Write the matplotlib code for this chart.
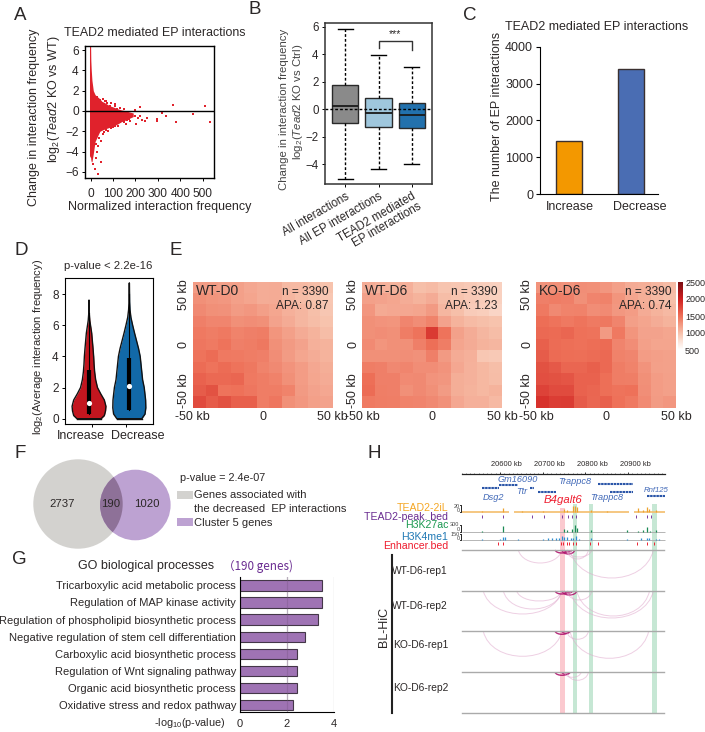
#!/usr/bin/python3
import numpy as np
import matplotlib
matplotlib.use("Agg")
import matplotlib.pyplot as plt
from matplotlib.colors import LinearSegmentedColormap
from matplotlib.patches import Circle, PathPatch, Rectangle
from matplotlib.path import Path

plt.rcParams["font.family"] = ["Liberation Sans", "DejaVu Sans"]
plt.rcParams["mathtext.fontset"] = "custom"
plt.rcParams["mathtext.rm"] = "Liberation Sans"
plt.rcParams["mathtext.it"] = "Liberation Sans:italic"
plt.rcParams["mathtext.default"] = "regular"
plt.rcParams["text.color"] = "#2b2727"
plt.rcParams["axes.labelcolor"] = "#2b2727"
plt.rcParams["xtick.labelcolor"] = "#2b2727"
plt.rcParams["ytick.labelcolor"] = "#2b2727"

################################################################################
# Data
################################################################################
# A - envelope of the dense cloud and the points outside of it
a_env_x = [-5, 0, 1, 3, 6, 12, 20, 41, 50, 60, 86, 100, 123, 138, 150, 190]
a_env_up = [6.4, 6.4, 5, 4, 3, 2, 1.6, 1.2, 0.95, 0.85, 0.5, 0.4, 0.2, 0.1, 0.05, -0.2]
a_env_lo = [-4.4, -4.6, -4.8, -5, -5, -4.2, -3, -2, -1.9, -1.8, -1.6, -1.5, -1.25, -1.05, -0.95, -0.55]
a_pts_x = [109, 116, 74, 86, 198, 220, 369, 510, 533, 455, 379, 317, 336, 295, 298, 250, 243, 228, 213,
           198, 183, 168, 158, 176, 146, 131, 138, 202, 220, 46, 31, 12, 19, 45, 34, 56, 79, 101, 123,
           41, 64, 93, 131, 60, 70, 90, 110, 150, 160, 170, 150, 110, 70, 55, 30, 25, 38, 28, 22]
a_pts_y = [0.66, 0.23, 0.75, 0.5, 0.1, 0.4, 0.6, 0.5, -1.05, -0.33, -1.08, -0.23, -0.5, -0.75, -1, -0.72,
           -1, -0.9, -0.65, -0.5, -0.5, -0.33, -1.3, -1, -0.8, -1.08, -0.55, -1.25, -0.5, -5, -6.2, -5.2,
           -5.7, -3, -3.4, -2.3, -2, -1.6, -1.5, 1.1, 1, 0.8, 0.3, -2.1, -1.9, -1.7, -1.5, -1.1, -0.9, -0.75,
           0.15, 0.45, 0.95, 1.15, 1.4, -3.3, -2.7, -4, -4.6]

# B - box plot
b_labels = ["All interactions", "All EP interactions", "TEAD2 mediated\nEP interactions"]
b_q1 = [-0.97, -1.25, -1.32]
b_med = [0.23, -0.25, -0.4]
b_q3 = [1.8, 0.85, 0.47]
b_low = [-5.05, -4.35, -4.0]
b_high = [5.87, 3.95, 3.1]
b_colors = ["#8a8a8a", "#9fc7dd", "#2271ad"]

# C - bars
c_labels = ["Increase", "Decrease"]
c_values = [1440, 3400]
c_colors = ["#f39800", "#4a6db3"]

# D - violins
d_labels = ["Increase", "Decrease"]
d_inc_y = [0, 0.2, 0.5, 0.8, 1.2, 1.6, 2, 2.5, 3, 3.5, 4, 4.5, 5, 5.5, 6, 6.3, 6.7, 7.6]
d_inc_w = [0.30, 0.38, 0.41, 0.42, 0.38, 0.29, 0.21, 0.165, 0.14, 0.125, 0.115, 0.10, 0.083, 0.066, 0.037, 0.02, 0.008, 0.004]
d_dec_y = [0, 0.3, 0.7, 1.2, 2, 2.5, 3, 3.5, 4, 4.5, 5, 5.5, 6, 6.5, 7, 7.5, 8.7]
d_dec_w = [0.31, 0.39, 0.41, 0.405, 0.37, 0.33, 0.31, 0.29, 0.27, 0.23, 0.18, 0.13, 0.083, 0.04, 0.017, 0.008, 0.003]
d_q1 = [0.3, 0.55]
d_med = [1.0, 2.1]
d_q3 = [3.1, 3.9]
d_top = [6.8, 8.0]
d_colors = ["#c3161f", "#1269a8"]

# E - aggregate peak analysis, rows from top to bottom
e_names = ["WT-D0", "WT-D6", "KO-D6"]
e_apa = ["APA: 0.87", "APA: 1.23", "APA: 0.74"]
e_wt_d0 = [
  [1220, 1220, 1200, 1200, 1150, 1120, 1130, 1040, 1040, 1020, 980],
  [1300, 1270, 1250, 1200, 1170, 1120, 1130, 1060, 1020, 980, 950],
  [1340, 1300, 1290, 1230, 1250, 1210, 1160, 1100, 1060, 1000, 960],
  [1400, 1360, 1360, 1300, 1320, 1300, 1180, 1130, 1060, 1020, 980],
  [1440, 1420, 1440, 1380, 1400, 1420, 1270, 1200, 1130, 1080, 1020],
  [1460, 1430, 1480, 1400, 1420, 1450, 1300, 1240, 1180, 1100, 1080],
  [1480, 1520, 1440, 1430, 1420, 1400, 1320, 1230, 1160, 1120, 1080],
  [1520, 1480, 1520, 1480, 1450, 1380, 1340, 1280, 1220, 1150, 1110],
  [1580, 1540, 1540, 1560, 1440, 1420, 1390, 1300, 1220, 1160, 1130],
  [1620, 1680, 1480, 1490, 1460, 1420, 1420, 1380, 1240, 1180, 1150],
  [1720, 1620, 1680, 1600, 1600, 1420, 1460, 1300, 1250, 1200, 1180],
]
e_wt_d6 = [
  [1120, 1090, 1080, 1100, 1000, 1030, 970, 960, 930, 900, 880],
  [1200, 1180, 1160, 1120, 1080, 1130, 1020, 970, 930, 910, 880],
  [1260, 1140, 1150, 1150, 1170, 1240, 1060, 1000, 920, 900, 850],
  [1300, 1280, 1270, 1360, 1320, 1380, 1180, 1080, 1030, 1000, 980],
  [1300, 1320, 1300, 1420, 1480, 1830, 1480, 1190, 1120, 1060, 1020],
  [1330, 1270, 1300, 1300, 1400, 1500, 1420, 1170, 1130, 1080, 1060],
  [1300, 1300, 1300, 1310, 1290, 1400, 1240, 1130, 1100, 950, 930],
  [1420, 1400, 1350, 1360, 1320, 1320, 1280, 1150, 1090, 1050, 1010],
  [1500, 1400, 1400, 1330, 1340, 1280, 1260, 1110, 1090, 1050, 1020],
  [1520, 1410, 1400, 1300, 1340, 1300, 1230, 1110, 1080, 1050, 1080],
  [1430, 1420, 1410, 1380, 1370, 1340, 1290, 1150, 1100, 1100, 1040],
]
e_ko_d6 = [
  [1280, 1300, 1280, 1310, 1300, 1260, 1200, 1130, 1110, 1070, 1030],
  [1400, 1420, 1400, 1300, 1370, 1390, 1270, 1170, 1110, 1040, 1000],
  [1440, 1340, 1380, 1390, 1320, 1330, 1250, 1220, 1130, 1080, 1040],
  [1510, 1480, 1440, 1470, 1430, 1450, 1370, 1210, 1170, 1120, 1080],
  [1540, 1530, 1560, 1490, 1480, 1240, 1440, 1270, 1180, 1180, 1160],
  [1600, 1520, 1500, 1490, 1510, 1530, 1370, 1320, 1200, 1170, 1170],
  [1620, 1530, 1510, 1500, 1520, 1540, 1390, 1360, 1220, 1210, 1190],
  [1680, 1640, 1560, 1560, 1600, 1540, 1420, 1380, 1280, 1200, 1190],
  [1700, 1680, 1660, 1580, 1580, 1500, 1420, 1410, 1300, 1220, 1200],
  [1780, 1720, 1720, 1580, 1560, 1500, 1480, 1490, 1310, 1220, 1200],
  [1880, 1810, 1820, 1620, 1550, 1600, 1490, 1440, 1330, 1230, 1260],
]
e_bar_ticks = [500, 1000, 1500, 2000, 2500]

# F - venn
f_counts = ["2737", "190", "1020"]

# G - GO terms
g_terms = ["Tricarboxylic acid metabolic process", "Regulation of MAP kinase activity",
           "Regulation of phospholipid biosynthetic process", "Negative regulation of stem cell differentiation",
           "Carboxylic acid biosynthetic process", "Regulation of Wnt signaling pathway",
           "Organic acid biosynthetic process", "Oxidative stress and redox pathway"]
g_values = [3.48, 3.48, 3.34, 2.76, 2.45, 2.42, 2.42, 2.25]

# H - browser tracks, positions in kb
h_major = [20600, 20700, 20800, 20900]
h_minor = np.arange(20510, 20990, 10)
h_gene_start = [20558, 20598, 20670, 20688, 20830, 20858, 20945]
h_gene_end = [20598, 20642, 20680, 20732, 20912, 20912, 20987]
h_gene_row = [488, 485, 488, 492, 484, 492, 496]
h_orange_start = [20511, 20632, 20913]
h_orange_end = [20620, 20901, 20987]
h_orange_x = [20559, 20608, 20651, 20700, 20749, 20756, 20770, 20776, 20780, 20813, 20850, 20922, 20935, 20944, 20950, 20965]
h_orange_v = [5, 15, 5, 4, 9, 6, 19, 20, 18, 6, 3, 13, 6, 18, 10, 8]
h_k27_x = [20559, 20608, 20749, 20758, 20769, 20776, 20780, 20813, 20897, 20922, 20935, 20944, 20952, 20965]
h_k27_v = [50, 230, 120, 80, 110, 280, 150, 60, 70, 40, 60, 170, 40, 60]
h_k4_x = [20559, 20600, 20608, 20612, 20643, 20700, 20712, 20722, 20730, 20738, 20745, 20750, 20758,
          20766, 20772, 20778, 20785, 20813, 20897, 20930, 20944, 20950, 20965, 20972]
h_k4_v = [30, 30, 80, 70, 25, 25, 50, 60, 40, 50, 100, 80, 70, 50, 60, 90, 30, 60, 20, 60, 40, 50, 35, 20]
h_peak = [20559, 20608, 20674, 20702, 20745, 20760, 20769, 20777, 20918, 20944, 20954]
h_enh = [20595, 20608, 20742, 20748, 20756, 20762, 20770, 20777, 20811, 20830, 20921, 20945, 20961]
h_pink = [20741, 20752]
h_green_start = [20770, 20808, 20956]
h_green_end = [20781, 20818, 20967]
h_tracks = ["WT-D6-rep1", "WT-D6-rep2", "KO-D6-rep1", "KO-D6-rep2"]
# arcs per track: start kb, end kb, depth in px, strong or not
h_arcs = [
  [(20643, 20745, 13, 0), (20729, 20760, 3, 1), (20745, 20775, 4, 1), (20750, 20768, 2, 1),
   (20756, 20815, 7, 0), (20764, 20959, 28, 0), (20756, 20807, 9, 0)],
  [(20561, 20745, 23, 0), (20608, 20745, 18, 0), (20639, 20745, 10, 0), (20729, 20760, 3, 1),
   (20745, 20780, 4, 1), (20750, 20770, 2, 1), (20756, 20815, 9, 0), (20764, 20959, 27, 0), (20780, 20950, 25, 0)],
  [(20561, 20745, 25, 0), (20729, 20762, 3, 1), (20745, 20764, 2, 1), (20764, 20948, 27, 0), (20756, 20807, 8, 0)],
  [(20729, 20762, 3, 1), (20745, 20764, 2, 1), (20756, 20807, 8, 0), (20750, 20790, 5, 0)],
]

################################################################################
# Helpers, everything is laid out in pixels of the reference
################################################################################
W, H = 705, 732
fig = plt.figure(figsize=(W/100, H/100), dpi=100)

def add_ax(x0, y0, x1, y1):
  return fig.add_axes([x0/W, 1 - y1/H, (x1 - x0)/W, (y1 - y0)/H])

def text(x, y, s, **kw):
  kw.setdefault("ha", "center")
  kw.setdefault("va", "center")
  kw.setdefault("fontsize", 8)
  return fig.text(x/W, 1 - y/H, s, **kw)

for letter, x, y in [("A", 20, 16), ("B", 255, 9), ("C", 470, 15), ("D", 21, 250),
                     ("E", 176, 250), ("F", 20, 453), ("G", 19, 559), ("H", 374, 453)]:
  text(x, y, letter, fontsize=13.5)

################################################################################
# A
################################################################################
ax = add_ax(85, 46, 214, 178)
ax.fill_between(a_env_x, a_env_lo, a_env_up, color="#e0222c", lw=0)
ax.scatter(a_pts_x, a_pts_y, s=1.6, marker="s", color="#e0222c", lw=0)
ax.axhline(0, color="black", lw=1)
ax.set_xlim(-25, 550)
ax.set_ylim(-6.6, 6.4)
ax.set_xticks([0, 100, 200, 300, 400, 500])
ax.set_yticks([-6, -4, -2, 0, 2, 4, 6])
ax.set_yticklabels(["\u22126", "\u22124", "\u22122", "0", "2", "4", "6"])
ax.tick_params(labelsize=8.6, length=2.5, width=0.7, pad=2)
ax.tick_params(axis="x", pad=5)
for s in ax.spines.values(): s.set_linewidth(1)
text(155, 33, "TEAD2 mediated EP interactions", fontsize=8.9)
text(34, 117, "Change in interaction frequency", rotation=90, fontsize=9)
text(54, 99, r"log$_2$($\mathit{Tead2}$ KO vs WT)", rotation=90, fontsize=9)
text(160, 207, "Normalized interaction frequency", fontsize=9)

################################################################################
# B
################################################################################
ax = add_ax(325, 23, 432, 184)
stats = []
for i in range(3):
  stats.append(dict(q1=b_q1[i], med=b_med[i], q3=b_q3[i], whislo=b_low[i], whishi=b_high[i], fliers=[]))
bp = ax.bxp(stats, positions=[1, 2, 3], widths=0.8, patch_artist=True, showfliers=False,
            medianprops=dict(color="#1a1a1a", lw=1.3),
            whiskerprops=dict(color="black", lw=1, linestyle=(0, (2, 1.5))),
            capprops=dict(color="black", lw=1), capwidths=0.45,
            boxprops=dict(edgecolor="#2a2a2a", lw=1))
for patch, color in zip(bp["boxes"], b_colors):
  patch.set_facecolor(color)
ax.axhline(0, color="black", lw=1, linestyle=(0, (2, 1.5)))
ax.plot([2, 2, 3, 3], [4.47, 4.98, 4.98, 4.3], color="#333333", lw=1)
ax.text(2.5, 5.5, "***", ha="center", va="center", fontsize=7.5)
ax.set_xlim(0.4, 3.6)
ax.set_ylim(-5.42, 6.27)
ax.set_yticks([-4, -2, 0, 2, 4, 6])
ax.set_yticklabels(["\u22124", "\u22122", "0", "2", "4", "6"])
ax.set_xticks([1, 2, 3])
ax.set_xticklabels(b_labels, rotation=30, ha="right", rotation_mode="anchor", linespacing=1.0)
ax.tick_params(labelsize=8.3, length=2.5, width=0.7, pad=2)
for s in ax.spines.values():
  s.set_linewidth(1.1)
  s.set_color("#333333")
text(284, 109, "Change in interaction frequency", rotation=90, fontsize=8.2, color="#444444")
text(298, 102, r"log$_2$($\mathit{Tead2}$ KO vs Ctrl)", rotation=90, fontsize=8.2, color="#444444")

################################################################################
# C
################################################################################
ax = add_ax(540, 46.7, 658, 194.3)
ax.bar([0, 1], c_values, width=26/62, color=c_colors, edgecolor="#3a3030", lw=1)
ax.set_xlim(-0.468, 1.435)
ax.set_ylim(0, 4000)
# the labels sit a bit off their bars in the original
ax.set_xticks([0.02, 1.14])
ax.set_xticklabels(c_labels)
ax.set_yticks([0, 1000, 2000, 3000, 4000])
ax.tick_params(axis="x", length=0, labelsize=9, pad=5)
ax.tick_params(axis="y", length=3, width=0.8, labelsize=9, pad=2)
ax.spines["top"].set_visible(False)
ax.spines["right"].set_visible(False)
text(597, 27, "TEAD2 mediated EP interactions", fontsize=9)
text(497, 116, "The number of EP interactions", rotation=90, fontsize=9)

################################################################################
# D
################################################################################
ax = add_ax(65, 278, 153, 424)
for i, (y, w) in enumerate([(d_inc_y, d_inc_w), (d_dec_y, d_dec_w)]):
  y = np.array(y)
  w = np.array(w)
  ax.fill_betweenx(y, i + 1 - w, i + 1 + w, color=d_colors[i], lw=0)
  ax.plot(np.r_[i + 1 - w[::-1], i + 1 + w], np.r_[y[::-1], y], color="#111111", lw=1, solid_capstyle="round")
  ax.plot([i + 1 - w[0], i + 1 + w[0]], [0, 0], color="#111111", lw=1)
  ax.plot([i + 1, i + 1], [d_q1[i], d_top[i]], color="black", lw=0.8)
  ax.plot([i + 1, i + 1], [d_q1[i], d_q3[i]], color="black", lw=3, solid_capstyle="butt")
  ax.scatter([i + 1], [d_med[i]], s=14, color="white", zorder=5, lw=0)
ax.set_xlim(0.404, 2.588)
ax.set_ylim(-0.34, 9.03)
ax.set_xticks([1.07, 1.92])
ax.set_xticklabels(["", ""])
ax.set_yticks([0, 2, 4, 6, 8])
ax.tick_params(labelsize=8.5, length=2.5, width=0.7, pad=2)
text(80.5, 436, d_labels[0], fontsize=9)
text(138, 436, d_labels[1], fontsize=9)
text(108, 266, "p-value < 2.2e-16", fontsize=8.1)
text(38, 347, r"log$_2$(Average interaction frequency)", rotation=90, fontsize=8)

################################################################################
# E
################################################################################
e_cmap = LinearSegmentedColormap.from_list("apa", [
  (0.0, "#ffffff"), (0.125, "#fce3d8"), (0.25, "#f7c0aa"), (0.5, "#ee7058"),
  (0.75, "#d01f1f"), (1.0, "#7a0c12")])
e_x = [192.7, 362, 536]
for i, m in enumerate([e_wt_d0, e_wt_d6, e_ko_d6]):
  ax = add_ax(e_x[i], 281.7, e_x[i] + 140, 408)
  im = ax.imshow(m, cmap=e_cmap, vmin=500, vmax=2500, aspect="auto", extent=[-50, 50, -50, 50], interpolation="nearest")
  ax.set_xticks([-50, 0, 50])
  ax.set_xticklabels(["-50 kb", "0", "50 kb"])
  ax.set_yticks([-36, 0, 40])
  ax.set_yticklabels(["-50 kb", "0", "50 kb"], rotation=90, va="center")
  ax.tick_params(length=0, labelsize=9, pad=2)
  for s in ax.spines.values(): s.set_visible(False)
  ax.text(-48, 42.5, e_names[i], fontsize=10, ha="left", va="center")
  ax.text(47, 42, "n = 3390", fontsize=8.6, ha="right", va="center")
  ax.text(47, 31, e_apa[i], fontsize=8.6, ha="right", va="center")
cax = add_ax(678, 282, 683, 350)
cb = fig.colorbar(im, cax=cax, ticks=e_bar_ticks)
cb.outline.set_visible(False)
cb.ax.tick_params(length=0, labelsize=6.5, pad=1.5)

################################################################################
# F
################################################################################
ax = add_ax(0, 440, 175, 560)
ax.set_xlim(0, 175)
ax.set_ylim(560, 440)
ax.axis("off")
big = Circle((78, 504), 44.7, color="#d3d2cf", lw=0)
small = Circle((135.3, 505), 35.3, color="#bda2d2", lw=0)
ax.add_patch(big)
ax.add_patch(small)
overlap = Circle((135.3, 505), 35.3, color="#8e7198", lw=0)
ax.add_patch(overlap)
overlap.set_clip_path(big)
for x, s in zip([62, 111, 147], f_counts):
  ax.text(x, 504, s, ha="center", va="center", fontsize=8.2)
text(180, 478, "p-value = 2.4e-07", ha="left", fontsize=7.8)
text(194, 495, "Genes associated with", ha="left", fontsize=8)
text(194, 508.5, "the decreased  EP interactions", ha="left", fontsize=8)
text(194, 522.5, "Cluster 5 genes", ha="left", fontsize=8)
fig.add_artist(Rectangle((177/W, 1 - 499/H), 16/W, 8/H, transform=fig.transFigure, color="#d3d2cf", lw=0))
fig.add_artist(Rectangle((177/W, 1 - 526/H), 16/W, 8/H, transform=fig.transFigure, color="#bda2d2", lw=0))

################################################################################
# G
################################################################################
ax = add_ax(239.5, 577, 334, 712)
ax.grid(axis="x", color="#dddddd", lw=1)
ax.set_axisbelow(True)
ax.barh(np.arange(len(g_terms)), g_values, height=0.6, color="#9a6bb0", edgecolor="#3c3040", lw=0.8, alpha=0.95)
ax.axvline(2, color="#7a5a85", lw=0.8, alpha=0.35)
ax.set_xlim(0, 4)
ax.set_ylim(7.41, -0.49)
ax.set_xticks([0, 2, 4])
ax.set_yticks(np.arange(len(g_terms)))
ax.set_yticklabels(g_terms)
ax.tick_params(axis="y", length=0, labelsize=8, pad=2.5)
ax.tick_params(axis="x", length=0, labelsize=8, pad=5)
ax.spines["top"].set_visible(False)
ax.spines["right"].set_visible(False)
text(190, 722.5, r"-log$_{10}$(p-value)", fontsize=7.8)
text(78, 566, "GO biological processes", ha="left", fontsize=9)
text(223, 566, "\uff08190 genes)", ha="left", fontsize=8.4, color="#6a2c91", family=["Noto Sans CJK SC", "Liberation Sans"])

################################################################################
# H
################################################################################
ax = add_ax(450, 460, 670, 720)
ax.set_xlim(20483, 20998)
ax.set_ylim(720, 460)
ax.axis("off")

# highlighted regions
ax.axvspan(h_pink[0], h_pink[1], ymin=(720 - 713)/260, ymax=(720 - 508)/260, color="#fbc9cf", lw=0)
for a, b in zip(h_green_start, h_green_end):
  ax.axvspan(a, b, ymin=(720 - 713)/260, ymax=(720 - 504)/260, color="#c6e7d4", lw=0)

# coordinate ruler
ax.plot([20510, 20987], [474, 474], color="#222222", lw=0.9)
ax.vlines(h_minor, 472.8, 474, color="#222222", lw=0.4)
ax.vlines(h_major, 471.5, 474, color="#222222", lw=0.6)
for x in h_major:
  ax.text(x + 16, 464.5, f"{x} kb", ha="center", va="center", fontsize=5.4)

# genes
gene_color = "#2a55a8"
ax.hlines(h_gene_row, h_gene_start, h_gene_end, color=gene_color, lw=1.5, linestyle=(0, (1.2, 0.3)))
for name, x, y, size in [("Dsg2", 493, 497, 6.6), ("Gm16090", 518, 480, 6.6), ("Ttr", 522, 491, 6.6),
                         ("Trappc8", 575, 482, 6.6), ("Trappc8", 607, 498, 6.6), ("Rnf125", 656, 491, 5.6)]:
  text(x, y, name, style="italic", color="#4169b8", fontsize=size)
text(563.5, 500, "B4galt6", style="italic", color="#ee1c2e", fontsize=8.2)

# signal tracks
ax.hlines([512]*len(h_orange_start), h_orange_start, h_orange_end, color="#f4bd6c", lw=1.2)
ax.vlines(h_orange_x, 512, 512 - np.array(h_orange_v)*0.3, color="#eda32f", lw=0.9)
ax.hlines(532, 20510, 20987, color="#aaaaaa", lw=0.6)
ax.vlines(h_k27_x, 532, 532 - np.array(h_k27_v)*8/300, color="#1a8a55", lw=0.9)
ax.hlines(540, 20510, 20987, color="#aaaaaa", lw=0.6)
ax.vlines(h_k4_x, 540, 540 - np.array(h_k4_v)*6/150, color="#2f8fd0", lw=0.9)
ax.vlines(h_peak, 515, 518, color="#7a3d9e", lw=0.7)
ax.vlines(h_enh, 541.5, 544.5, color="#ee2233", lw=0.7)
for y0, y1 in [(505, 512), (525, 531.5), (533.5, 539.5)]:
  ax.plot([20507, 20509, 20509, 20507], [y0, y0, y1, y1], color="black", lw=0.6)
for y, s in [(506, "20"), (511, "0"), (524, "300"), (529.3, "0"), (534, "150"), (538.6, "0")]:
  ax.text(20505, y, s, ha="right", va="center", fontsize=4, color="#444444")

# interaction tracks
arc_y = [550, 591, 631.3, 672.3]
for y in arc_y + [713.3]:
  ax.plot([20510, 20985], [y, y], color="#aaaaaa", lw=1)
for y, arcs in zip(arc_y, h_arcs):
  for a, b, d, strong in arcs:
    w = b - a
    verts = [(a, y), (a + 0.1*w, y + 4*d/3), (b - 0.1*w, y + 4*d/3), (b, y)]
    path = Path(verts, [Path.MOVETO, Path.CURVE4, Path.CURVE4, Path.CURVE4])
    if strong:
      ax.add_patch(PathPatch(path, fill=False, edgecolor="#b0156e", lw=1, alpha=0.9))
    else:
      ax.add_patch(PathPatch(path, fill=False, edgecolor="#e0a8cc", lw=0.7, alpha=0.55))

# labels on the left
for y, s, c in [(507.7, "TEAD2-2iL", "#f5a623"), (516.7, "TEAD2-peak. bed", "#6a2c91"),
                (525.3, "H3K27ac", "#1a9850"), (537, "H3K4me1", "#1f78b4"), (546, "Enhancer.bed", "#ee1c2e")]:
  text(448, y, s, ha="right", color=c, fontsize=7.6)
for y, s in zip([571, 606, 645, 688], h_tracks):
  text(448, y, s, ha="right", fontsize=7.4)
text(384, 627, "BL-HiC", rotation=90, fontsize=9)
fig.add_artist(plt.Line2D([392/W, 392/W], [1 - 555/H, 1 - 713/H], color="#222222", lw=1.5))

fig.savefig("out.png", dpi=100)
